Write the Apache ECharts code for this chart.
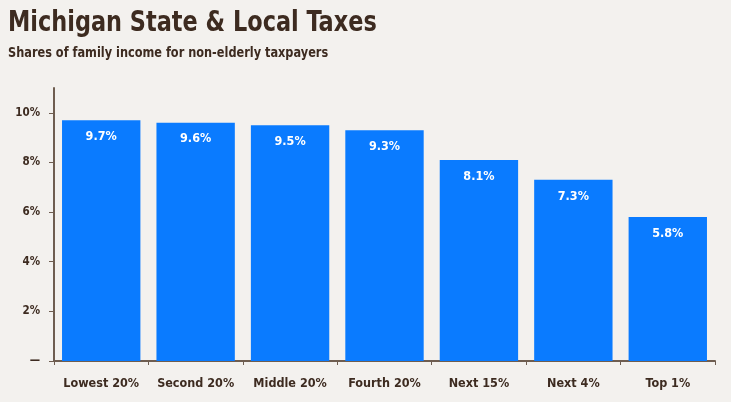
<!DOCTYPE html>
<html>
<head>
<meta charset="utf-8">
<script src="https://cdn.jsdelivr.net/npm/echarts@6/dist/echarts.min.js"></script>
<style>
  html, body { margin: 0; padding: 0; background: #f3f1ee; }
  #main { width: 731px; height: 402px; }
</style>
</head>
<body>
<div id="main"></div>
<script>
const categories = ['Lowest 20%', 'Second 20%', 'Middle 20%', 'Fourth 20%', 'Next 15%', 'Next 4%', 'Top 1%'];
const taxShares = [9.7, 9.6, 9.5, 9.3, 8.1, 7.3, 5.8];
const yTicks = [0, 2, 4, 6, 8, 10];

const fontCond = '"DejaVu Sans Condensed", "Liberation Sans Narrow", sans-serif';
const brown = '#3d2b20';

var myChart = echarts.init(document.getElementById('main'));
myChart.setOption({
    backgroundColor: '#f3f1ee',
    animation: false,
    // titles drawn as graphic text so they can be squeezed like the condensed original
    graphic: [
        {
            type: 'text',
            left: 8,
            top: 10,
            scaleX: 0.89,
            style: {
                text: 'Michigan State & Local Taxes',
                font: 'bold 28px ' + fontCond,
                fill: brown
            }
        },
        {
            type: 'text',
            left: 8,
            top: 46,
            scaleX: 0.9,
            style: {
                text: 'Shares of family income for non-elderly taxpayers',
                font: 'bold 14px ' + fontCond,
                fill: brown
            }
        }
    ],
    grid: { left: 54, right: 16, top: 88, bottom: 41 },
    xAxis: {
        type: 'category',
        data: categories,
        axisLine: { lineStyle: { color: '#6e5d50', width: 2 } },
        axisTick: { show: true, length: 4, lineStyle: { color: '#6e5d50' } },
        axisLabel: {
            interval: 0,
            margin: 16,
            fontFamily: fontCond,
            fontWeight: 'bold',
            fontSize: 12.5,
            color: brown
        }
    },
    yAxis: {
        type: 'value',
        min: 0,
        max: 11,
        interval: 2,
        splitLine: { show: false },
        axisLine: { show: true, lineStyle: { color: '#6e5d50', width: 2 } },
        axisTick: { show: true, length: 5, lineStyle: { color: '#6e5d50' } },
        axisLabel: {
            margin: 14,
            fontFamily: fontCond,
            fontWeight: 'bold',
            fontSize: 11.5,
            color: brown,
            showMaxLabel: false,
            formatter: function (v) {
                if (yTicks.indexOf(v) < 0) return '';
                return v === 0 ? '\u2014' : v + '%';
            }
        }
    },
    series: [
        {
            type: 'bar',
            data: taxShares,
            barCategoryGap: '17%',
            itemStyle: { color: '#0a7bff' },
            label: {
                show: true,
                position: 'insideTop',
                distance: 10,
                fontFamily: fontCond,
                fontWeight: 'bold',
                fontSize: 12.5,
                color: '#ffffff',
                formatter: function (p) { return p.value.toFixed(1) + '%'; }
            }
        }
    ]
});
</script>
</body>
</html>
